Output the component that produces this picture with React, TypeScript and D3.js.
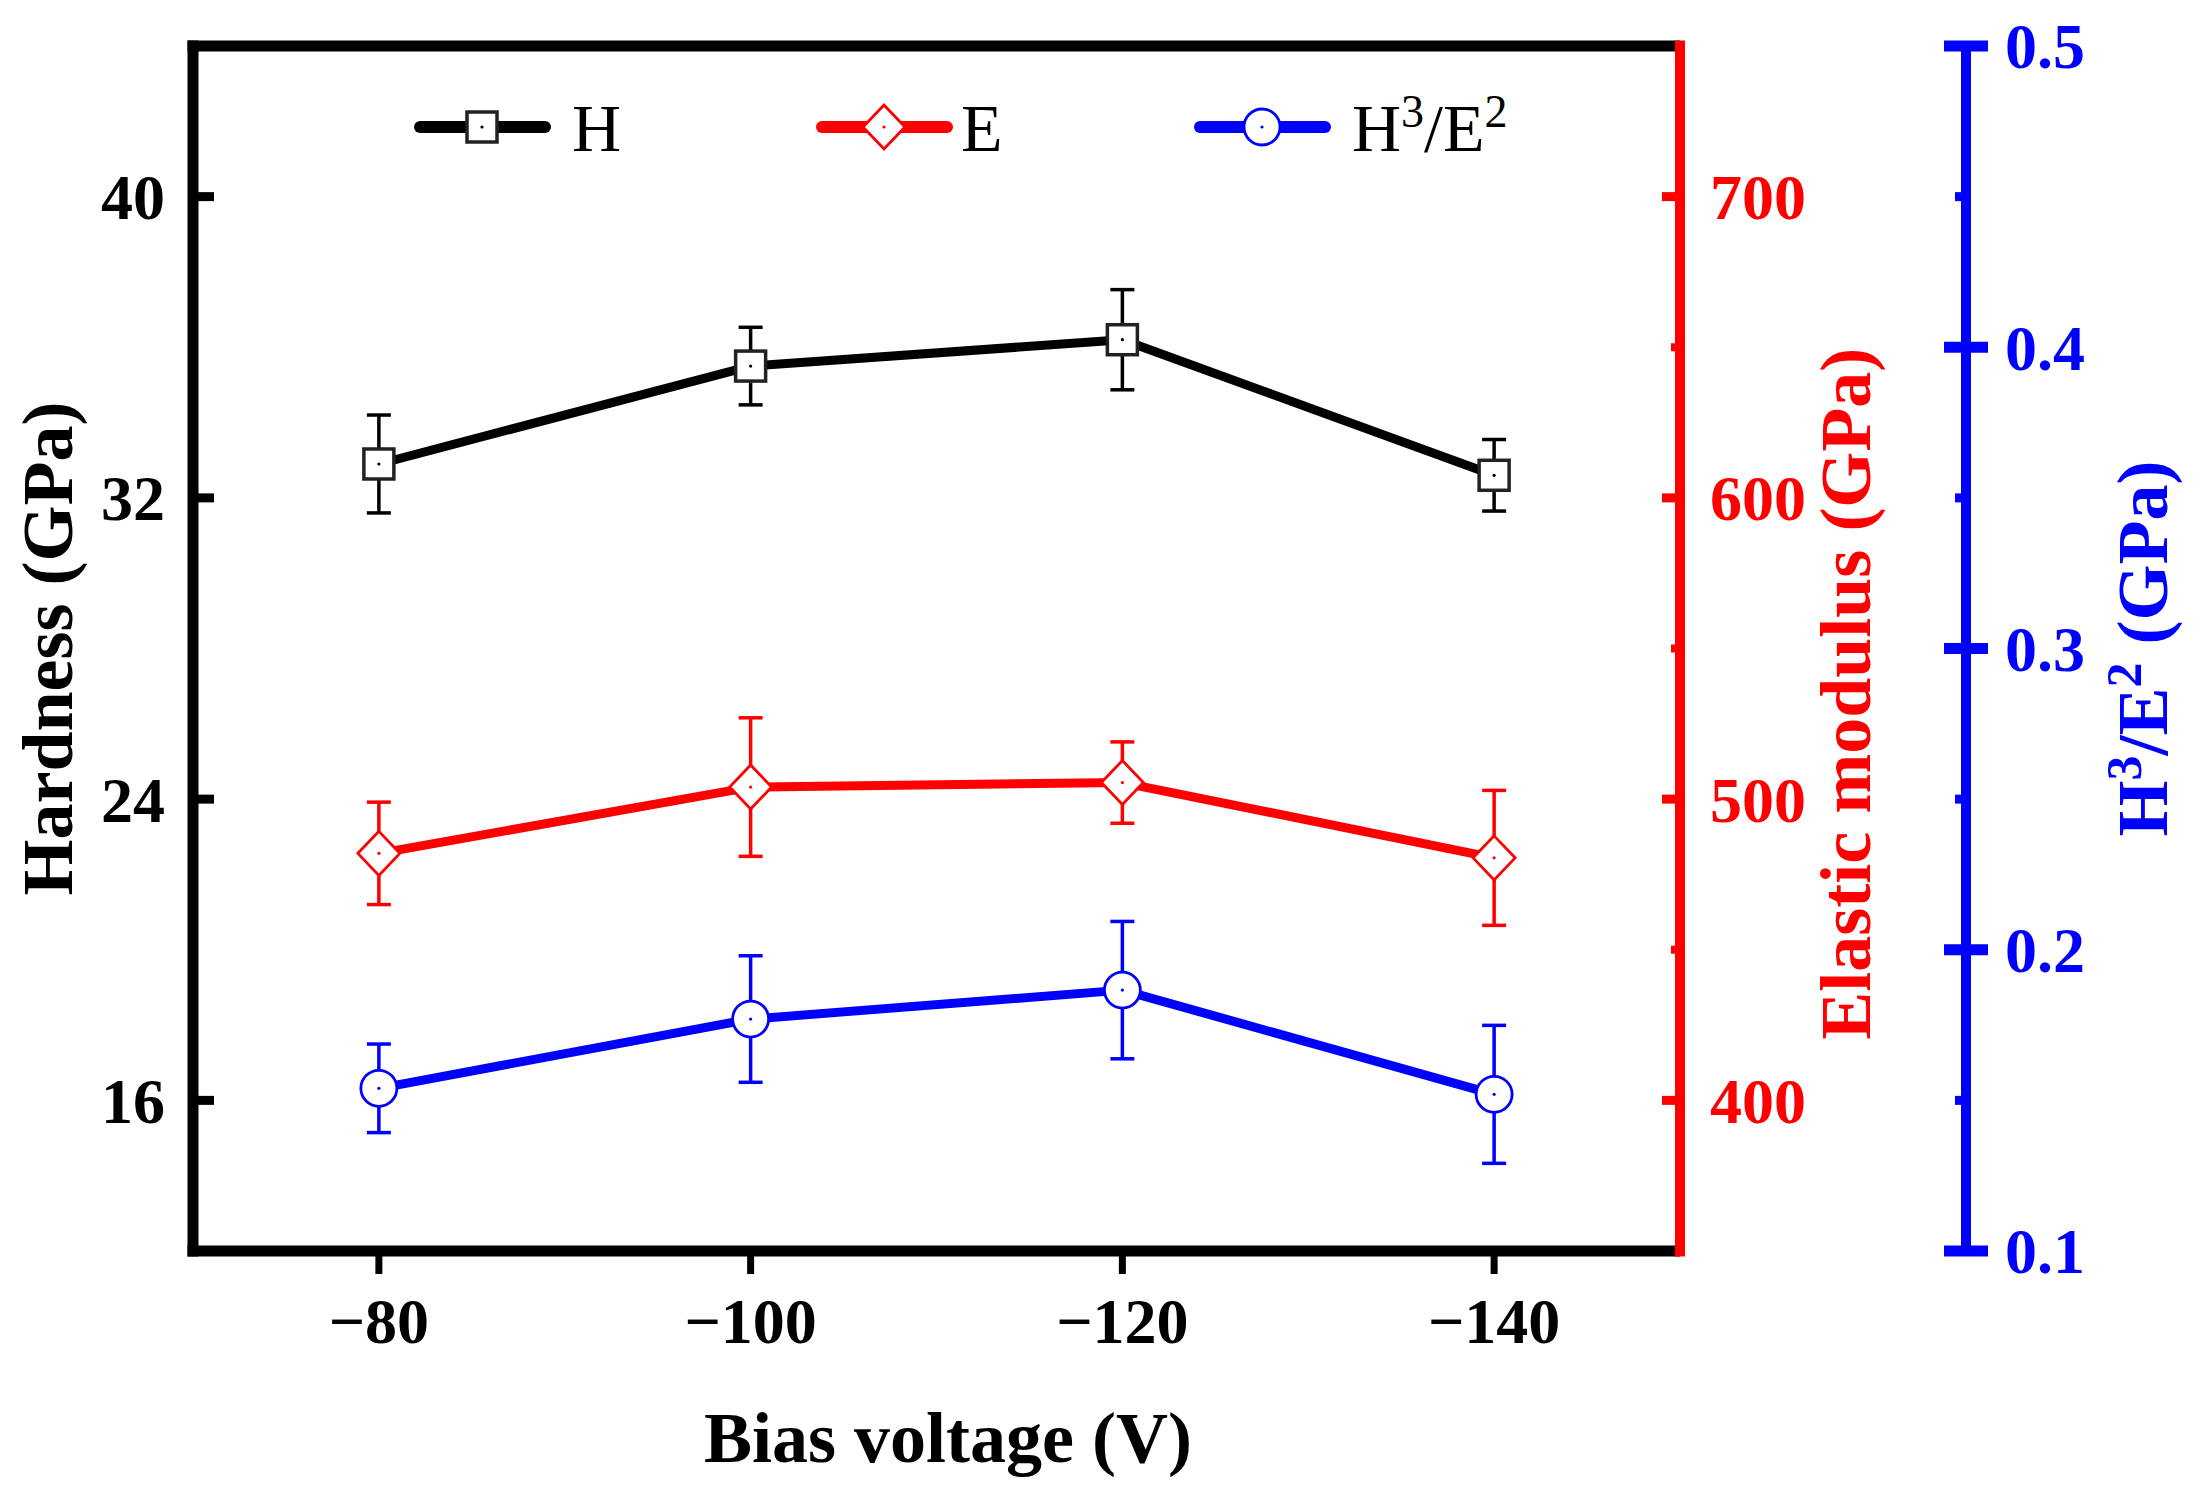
import React from 'react';
import * as d3 from 'd3';

// bias voltage (V) and measured values
const voltages = [-80, -100, -120, -140];
const hardness = [32.9, 35.5, 36.2, 32.6];
const hardnessErr = [1.3, 1.03, 1.33, 0.95];
const modulus = [482, 504, 505.5, 480.5];
const modulusErr = [17, 23, 13.5, 22.4];
const ratio = [0.154, 0.177, 0.1866, 0.152];
const ratioErr = [0.0147, 0.021, 0.0228, 0.0229];

const hTicks = [16, 24, 32, 40];
const eTicks = [400, 500, 600, 700];
const eMinor = [450, 550, 650];
const rTicks = [0.1, 0.2, 0.3, 0.4, 0.5];
const rMinor = [0.15, 0.25, 0.35, 0.45];

const W = 2204;
const H = 1492;
const left = 193;
const right = 1680;
const top = 46;
const bottom = 1251;
const blueX = 1966;

const FONT = '"Liberation Serif", "Times New Roman", serif';
const RED = '#ff0000';
const BLUE = '#0000ff';

const x = d3.scaleLinear().domain([-70, -150]).range([left, right]);
const yH = d3.scaleLinear().domain([12, 44]).range([bottom, top]);
const yE = d3.scaleLinear().domain([350, 750]).range([bottom, top]);
const yR = d3.scaleLinear().domain([0.1, 0.5]).range([bottom, top]);

const fmtX = (v: number) => (v < 0 ? '\u2212' + Math.abs(v) : String(v));
const fmtR = d3.format('.1f');

type Shape = 'square' | 'diamond' | 'circle';

const Marker = ({ cx, cy, shape, color }: { cx: number; cy: number; shape: Shape; color: string }) => {
  let el;
  if (shape === 'square') {
    el = <rect x={cx - 15} y={cy - 15} width={30} height={30} fill="#fff" stroke="#222" strokeWidth={3.5} />;
  } else if (shape === 'diamond') {
    el = (
      <path
        d={`M${cx},${cy - 22}L${cx + 21},${cy}L${cx},${cy + 22}L${cx - 21},${cy}Z`}
        fill="#fff"
        stroke={color}
        strokeWidth={2.8}
      />
    );
  } else {
    el = <circle cx={cx} cy={cy} r={18} fill="#fff" stroke={color} strokeWidth={2.8} />;
  }
  return (
    <g>
      {el}
      <circle cx={cx} cy={cy} r={1.6} fill={color} />
    </g>
  );
};

const series = [
  { name: 'H', vals: hardness, errs: hardnessErr, y: yH, color: '#000', shape: 'square' as Shape },
  { name: 'E', vals: modulus, errs: modulusErr, y: yE, color: RED, shape: 'diamond' as Shape },
  { name: 'R', vals: ratio, errs: ratioErr, y: yR, color: BLUE, shape: 'circle' as Shape },
];

const legendX = [420, 822, 1200];
const legendTextX = [572, 961, 1352];

export default function App() {
  const line = d3.line<[number, number]>();

  return (
    <svg
      width={W}
      height={H}
      viewBox={`0 0 ${W} ${H}`}
      style={{ position: 'absolute', left: 0, top: 0, background: '#fff' }}
      fontFamily={FONT}
    >
      <rect width={W} height={H} fill="#fff" />

      {/* data */}
      {series.map((s) => {
        const pts = voltages.map((v, i) => [x(v), s.y(s.vals[i])] as [number, number]);
        return (
          <g key={s.name}>
            {voltages.map((v, i) => {
              const cx = x(v);
              const y1 = s.y(s.vals[i] + s.errs[i]);
              const y2 = s.y(s.vals[i] - s.errs[i]);
              return (
                <g key={v} stroke={s.color} strokeWidth={3.5}>
                  <line x1={cx} x2={cx} y1={y1} y2={y2} />
                  <line x1={cx - 12} x2={cx + 12} y1={y1} y2={y1} />
                  <line x1={cx - 12} x2={cx + 12} y1={y2} y2={y2} />
                </g>
              );
            })}
            <path d={line(pts) || ''} fill="none" stroke={s.color} strokeWidth={9} strokeLinejoin="round" />
            {pts.map(([px, py], i) => (
              <Marker key={i} cx={px} cy={py} shape={s.shape} color={s.color} />
            ))}
          </g>
        );
      })}

      {/* frame */}
      <line x1={left - 5.5} x2={right} y1={top} y2={top} stroke="#000" strokeWidth={11} />
      <line x1={left - 5.5} x2={right} y1={bottom} y2={bottom} stroke="#000" strokeWidth={11} />
      <line x1={left} x2={left} y1={top - 5.5} y2={bottom + 5.5} stroke="#000" strokeWidth={11} />
      <line x1={right} x2={right} y1={top - 5.5} y2={bottom + 5.5} stroke={RED} strokeWidth={10} />

      {/* bottom axis */}
      {voltages.map((v) => (
        <g key={v}>
          <line x1={x(v)} x2={x(v)} y1={bottom} y2={bottom + 23} stroke="#000" strokeWidth={7} />
          <text x={x(v)} y={1343} textAnchor="middle" fontSize={64} fontWeight="bold" fill="#000">
            {fmtX(v)}
          </text>
        </g>
      ))}
      <text x={948} y={1462} textAnchor="middle" fontSize={72} fontWeight="bold" fill="#000">
        Bias voltage (V)
      </text>

      {/* left axis */}
      {hTicks.map((t) => (
        <g key={t}>
          <line x1={left} x2={left + 21} y1={yH(t)} y2={yH(t)} stroke="#000" strokeWidth={9} />
          <text x={165} y={yH(t)} dy="0.35em" textAnchor="end" fontSize={64} fontWeight="bold" fill="#000">
            {t}
          </text>
        </g>
      ))}
      <text
        transform={`translate(72, ${yH(28)}) rotate(-90)`}
        textAnchor="middle"
        fontSize={72}
        fontWeight="bold"
        fill="#000"
      >
        Hardness (GPa)
      </text>

      {/* red axis */}
      {eTicks.map((t) => (
        <g key={t}>
          <line x1={right - 18} x2={right} y1={yE(t)} y2={yE(t)} stroke={RED} strokeWidth={9} />
          <text x={1710} y={yE(t)} dy="0.35em" textAnchor="start" fontSize={64} fontWeight="bold" fill={RED}>
            {t}
          </text>
        </g>
      ))}
      {eMinor.map((t) => (
        <line key={t} x1={right - 9} x2={right} y1={yE(t)} y2={yE(t)} stroke={RED} strokeWidth={8} />
      ))}
      <text
        transform={`translate(1870, ${yE(535)}) rotate(-90)`}
        textAnchor="middle"
        fontSize={72}
        fontWeight="bold"
        fill={RED}
      >
        Elastic modulus (GPa)
      </text>

      {/* blue axis */}
      <line x1={blueX} x2={blueX} y1={top} y2={bottom} stroke={BLUE} strokeWidth={10} />
      {rTicks.map((t) => (
        <g key={t}>
          <line x1={blueX - 22} x2={blueX + 22} y1={yR(t)} y2={yR(t)} stroke={BLUE} strokeWidth={11} />
          <text x={2005} y={yR(t)} dy="0.35em" textAnchor="start" fontSize={64} fontWeight="bold" fill={BLUE}>
            {fmtR(t)}
          </text>
        </g>
      ))}
      {rMinor.map((t) => (
        <line key={t} x1={blueX - 11} x2={blueX} y1={yR(t)} y2={yR(t)} stroke={BLUE} strokeWidth={9} />
      ))}
      <text
        transform={`translate(2167, ${yR(0.3)}) rotate(-90)`}
        textAnchor="middle"
        fontSize={72}
        fontWeight="bold"
        fill={BLUE}
      >
        H<tspan dy="-26" fontSize={50}>3</tspan>
        <tspan dy="26">/E</tspan>
        <tspan dy="-26" fontSize={50}>2</tspan>
        <tspan dy="26"> (GPa)</tspan>
      </text>

      {/* legend */}
      {series.map((s, i) => {
        const lx = legendX[i];
        const ly = 127;
        return (
          <g key={s.name}>
            <line x1={lx} x2={lx + 125} y1={ly} y2={ly} stroke={s.color} strokeWidth={12} strokeLinecap="round" />
            <Marker cx={lx + 62} cy={ly} shape={s.shape} color={s.color} />
            <text x={legendTextX[i]} y={ly} dy="0.36em" fontSize={68} fill="#000">
              {s.name === 'R' ? (
                <>
                  H<tspan dy="-24" fontSize={46}>3</tspan>
                  <tspan dy="24">/E</tspan>
                  <tspan dy="-24" fontSize={46}>2</tspan>
                </>
              ) : (
                s.name
              )}
            </text>
          </g>
        );
      })}
    </svg>
  );
}
